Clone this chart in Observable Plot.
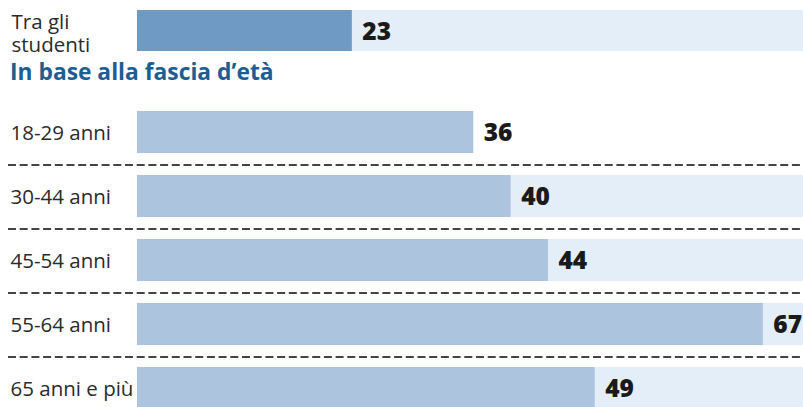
<!DOCTYPE html>
<html>
<head>
<meta charset="utf-8">
<script src="https://cdn.jsdelivr.net/npm/d3@7"></script>
<script src="https://cdn.jsdelivr.net/npm/@observablehq/plot@0.6"></script>
<style>
  html, body { margin: 0; padding: 0; background: #fff; overflow: hidden; }
  #wrap { width: 803px; }
  #heading {
    height: 38px; box-sizing: border-box; padding: 0 0 0 10px;
    font: bold 22.8px "Open Sans", sans-serif; line-height: 24px; color: #1c5d92;
  }
  svg { display: block; }
</style>
</head>
<body>
<div id="wrap">
  <div id="topRow"></div>
  <div id="heading">In base alla fascia d’età</div>
  <div id="ageRows"></div>
</div>
<script>
// ---- data ----
const studentLabel = ["Tra gli\nstudenti"];
const studentValue = [23];
const ageGroups = ["18-29 anni", "30-44 anni", "45-54 anni", "55-64 anni", "65 anni e più"];
const ageValues = [36, 40, 44, 67, 49];
const noTrack = ["18-29 anni"];

// ---- style ----
const xMax = 71.3;
const trackColor = "#e4eef8";
const studentColor = "#6f9ac4";
const ageColor = "#adc4df";
const labelFont = "Open Sans";

const studentRows = studentLabel.map((l, i) => ({label: l, value: studentValue[i]}));
const ageRowsData = ageGroups.map((l, i) => ({label: l, value: ageValues[i]}));

const topChart = Plot.plot({
  width: 803, height: 60,
  marginTop: 10, marginBottom: 9, marginLeft: 8, marginRight: 0,
  style: {overflow: "visible"},
  x: {domain: [0, xMax], range: [137, 803], axis: null},
  y: {domain: studentLabel, padding: 0, axis: null},
  marks: [
    Plot.barX(studentRows, {y: "label", x1: 0, x2: xMax, fill: trackColor}),
    Plot.barX(studentRows, {y: "label", x: "value", fill: studentColor}),
    Plot.text(studentRows, {y: "label", text: "label", frameAnchor: "left", textAnchor: "start", dx: 3, dy: 2,
      fontSize: 20.5, fontFamily: labelFont, fill: "#2b2b2b", lineHeight: 1.1}),
    Plot.text(studentRows, {y: "label", x: "value", text: d => String(d.value), textAnchor: "start", dx: 10, dy: 1,
      fontSize: 24.5, fontWeight: 800, fontFamily: labelFont, fill: "#1a1a1a"})
  ]
});
document.getElementById("topRow").append(topChart);

const step = 64.75;
const ageChart = Plot.plot({
  width: 803, height: 309,
  marginTop: 0, marginBottom: 0, marginLeft: 8, marginRight: 0,
  style: {overflow: "visible"},
  x: {domain: [0, xMax], range: [137, 803], axis: null},
  y: {domain: ageGroups, range: [0, step * ageGroups.length], paddingInner: 0.336, paddingOuter: 0.168, axis: null},
  marks: [
    Plot.barX(ageRowsData.filter(d => !noTrack.includes(d.label)), {y: "label", x1: 0, x2: xMax, fill: trackColor}),
    Plot.barX(ageRowsData, {y: "label", x: "value", fill: ageColor}),
    Plot.ruleY(ageRowsData.slice(0, -1), {y: "label", dy: step / 2, stroke: "#444", strokeWidth: 2, strokeDasharray: "8,3.7"}),
    Plot.text(ageRowsData, {y: "label", text: "label", frameAnchor: "left", textAnchor: "start", dx: 2, dy: 1,
      fontSize: 20.5, fontFamily: labelFont, fill: "#2b2b2b"}),
    Plot.text(ageRowsData, {y: "label", x: "value", text: d => String(d.value), textAnchor: "start", dx: 10, dy: 1,
      fontSize: 24.5, fontWeight: 800, fontFamily: labelFont, fill: "#1a1a1a"})
  ]
});
document.getElementById("ageRows").append(ageChart);
</script>
</body>
</html>
